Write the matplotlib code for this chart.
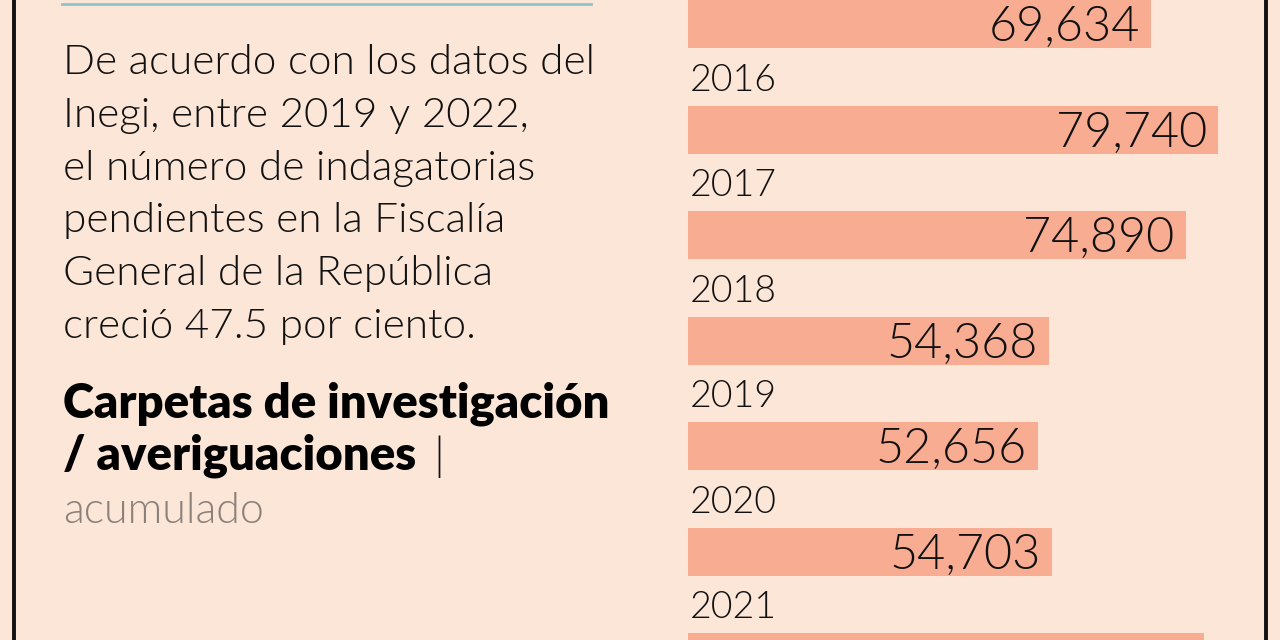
import numpy as np
import matplotlib
matplotlib.use('Agg')
import matplotlib.pyplot as plt
from matplotlib.lines import Line2D

# datos (anios y carpetas acumuladas)
years = ['2015', '2016', '2017', '2018', '2019', '2020', '2021']
values = [69634, 79740, 74890, 54368, 52656, 54703, 77600]
value_labels = ['69,634', '79,740', '74,890', '54,368', '52,656', '54,703', '77,600']

body_lines = ['De acuerdo con los datos del',
              'Inegi, entre 2019 y 2022,',
              'el número de indagatorias',
              'pendientes en la Fiscalía',
              'General de la República',
              'creció 47.5 por ciento.']
title_1 = 'Carpetas de investigación'
title_2 = '/ averiguaciones'
subtitle = 'acumulado'

BG = '#fbe6d8'
BAR = '#f8ad93'
FONT = ['Lato', 'DejaVu Sans']
LIGHT = 300

W, H = 1280, 640
fig = plt.figure(figsize=(12.8, 6.4), dpi=100, facecolor=BG)

# barras
ax = fig.add_axes([688 / W, 0, (W - 688) / W, 1])
ax.set_facecolor('none')
pitch = 105.5
ypos = np.arange(len(years))
ax.barh(ypos, values, height=48 / pitch, color=BAR, left=0)
ax.set_xlim(0, (W - 688) / (530 / 79740))
ax.set_ylim((H - 24) / pitch, -24 / pitch)
for i in ypos:
    ax.annotate(value_labels[i], (values[i], i), xytext=(-8, -2.5), textcoords='offset points',
                ha='right', va='center', fontsize=35, family=FONT, weight=LIGHT, color='#111111')
    ax.annotate(years[i], (0, i - 0.5), xytext=(1.5, -3), textcoords='offset points',
                ha='left', va='center', fontsize=27, family=FONT, weight=LIGHT, color='#111111')
ax.axis('off')

# texto izquierdo
for k, line in enumerate(body_lines):
    fig.text(63 / W, 1 - (74 + 52.8 * k) / H, line, ha='left', va='baseline',
             fontsize=30.4, family=FONT, weight=LIGHT, color='#111111')

fig.text(63 / W, 1 - 417 / H, title_1, ha='left', va='baseline',
         fontsize=34, family=FONT, weight='heavy', color='#000000')
t2 = fig.text(63 / W, 1 - 470 / H, title_2, ha='left', va='baseline',
              fontsize=34, family=FONT, weight='heavy', color='#000000')
r = fig.canvas.get_renderer()
bb = t2.get_window_extent(renderer=r)
fig.text((bb.x1 + 17) / W, 1 - 470 / H, '|', ha='left', va='baseline',
         fontsize=33, family=FONT, weight=LIGHT, color='#111111')
fig.text(63 / W, 1 - 523 / H, subtitle, ha='left', va='baseline',
         fontsize=31, family=FONT, weight=LIGHT, color='#8c817a')

# lineas decorativas
fig.add_artist(Line2D([62 / W, 591 / W], [1 - 4 / H, 1 - 4 / H], transform=fig.transFigure,
                      color='#8ec3cc', lw=2))
for xp in (14, 1266):
    fig.add_artist(Line2D([xp / W, xp / W], [0, 1], transform=fig.transFigure,
                          color='#111111', lw=2.8))

fig.savefig('out.png', dpi=100, facecolor=BG)
